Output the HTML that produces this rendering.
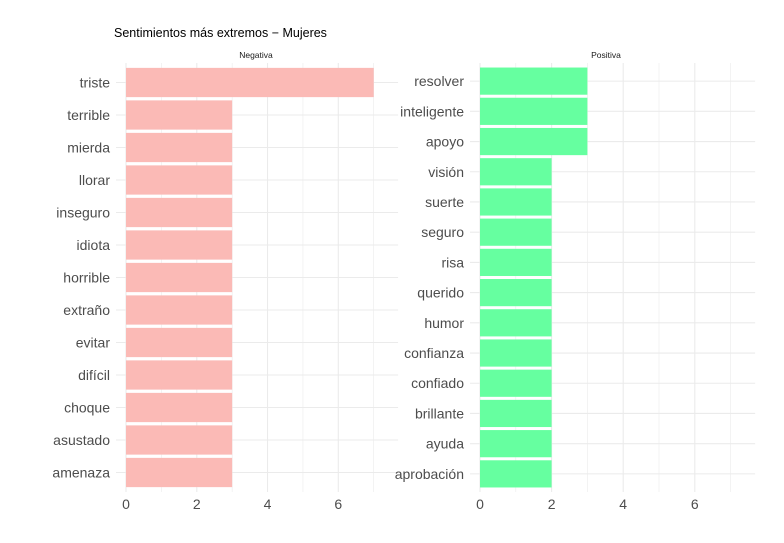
<!DOCTYPE html>
<html><head><meta charset="utf-8"><style>
body{margin:0;background:#fff}
svg text{font-family:"Liberation Sans",Arial,sans-serif}
</style></head><body>
<svg id="c" width="784" height="538" xmlns="http://www.w3.org/2000/svg">
<text x="114" y="37" font-size="12.5" fill="#000">Sentimientos más extremos − Mujeres</text>
</svg>
<script>
const negWords=["triste","terrible","mierda","llorar","inseguro","idiota","horrible","extraño","evitar","difícil","choque","asustado","amenaza"];
const negValues=[7,3,3,3,3,3,3,3,3,3,3,3,3];
const posWords=["resolver","inteligente","apoyo","visión","suerte","seguro","risa","querido","humor","confianza","confiado","brillante","ayuda","aprobación"];
const posValues=[3,3,3,2,2,2,2,2,2,2,2,2,2,2];
const xTicks=[0,2,4,6];
const svg=document.getElementById('c');
const NS='http://www.w3.org/2000/svg';
function mk(t,a,p){const e=document.createElementNS(NS,t);for(const k in a)e.setAttribute(k,a[k]);(p||svg).appendChild(e);return e;}
const plotTop=63,plotBot=492;
function panel(name,words,vals,x0,x1,color,stripX){
  const g=mk('g',{});
  
  
  const unit=(x1-x0)/7;
  const xs=v=>x0+v*unit;
  const right=xs(7.35);
  const n=words.length;
  const step=(plotBot-plotTop)/(n-1+1.2);
  const ys=i=>plotTop+step*(0.6+i);
  for(let m=0;m<=7;m++){
    const l=mk('line',{x1:xs(m),x2:xs(m),y1:plotTop,y2:plotBot,stroke:'#ebebeb','stroke-width':m%2?0.6:1.1},g);
    
    
  }
  words.forEach((w,i)=>{
    const l=mk('line',{x1:x0-10,x2:right+12,y1:ys(i),y2:ys(i),stroke:'#ebebeb','stroke-width':1.1},g);
    
    
  });
  words.forEach((w,i)=>{
    const h=step*0.9;
    const r=mk('rect',{x:xs(0),y:ys(i)-h/2,width:xs(vals[i])-xs(0),height:h,fill:color},g);
    
    
    const t=mk('text',{x:x0-16,y:ys(i)+5,'text-anchor':'end','font-size':14,fill:'#4d4d4d'},g);
    t.textContent=w;
    
    
  });
  xTicks.forEach(v=>{
    const t=mk('text',{x:xs(v),y:509,'text-anchor':'middle','font-size':14,fill:'#4d4d4d'},g);
    t.textContent=v;
    
    
  });
  const s=mk('text',{x:stripX,y:58,'text-anchor':'middle','font-size':8.5,fill:'#1a1a1a'},g);
  s.textContent=name==='negativa'?'Negativa':'Positiva';
  
  
}
panel('negativa',negWords,negValues,126,373.7,'#fbbab6',256);
panel('positiva',posWords,posValues,480,730.6,'#66ffa0',606);
</script>
</body></html>
